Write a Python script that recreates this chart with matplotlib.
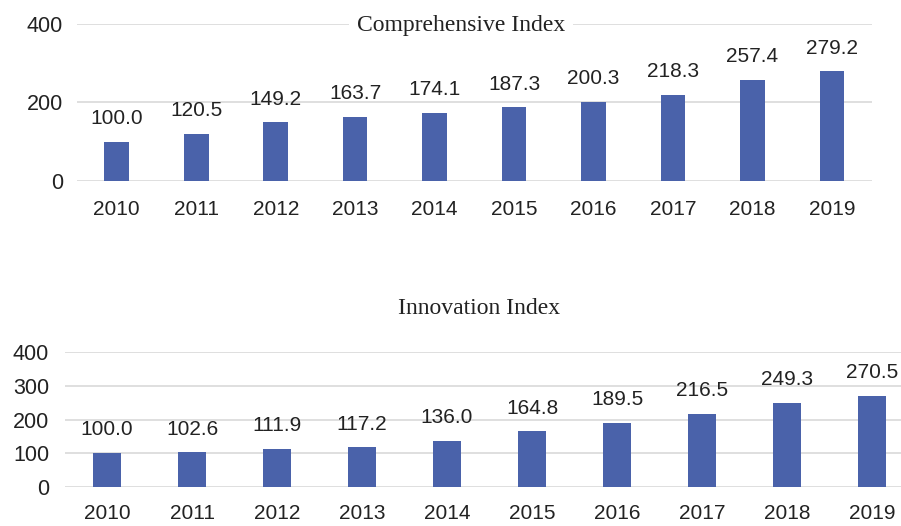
import numpy as np
import matplotlib.pyplot as plt

years = ["2010", "2011", "2012", "2013", "2014", "2015", "2016", "2017", "2018", "2019"]
comprehensive = [100.0, 120.5, 149.2, 163.7, 174.1, 187.3, 200.3, 218.3, 257.4, 279.2]
innovation = [100.0, 102.6, 111.9, 117.2, 136.0, 164.8, 189.5, 216.5, 249.3, 270.5]

bar_color = "#4a62aa"
grid_color = "#d9d9d9"
plt.rcParams['font.family'] = ['Liberation Sans', 'DejaVu Sans']

fig = plt.figure(figsize=(9.01, 5.26), dpi=100)

def draw_panel(ax, vals, yticks, bw, xpad, ypad):
    x = np.arange(len(years))
    bars = ax.bar(x, vals, width=bw, color=bar_color, zorder=3)
    ax.bar_label(bars, labels=["%.1f" % v for v in vals], padding=10, fontsize=15, color="#222222")
    ax.set_xlim(-0.5, len(years) - 0.5)
    ax.set_ylim(0, 400)
    ax.set_yticks(yticks)
    ax.set_xticks(x)
    ax.set_xticklabels(years)
    ax.grid(axis="y", color=grid_color, lw=1.2, zorder=0)
    for s in ax.spines.values():
        s.set_visible(False)
    ax.tick_params(axis="x", length=0, pad=xpad, labelsize=15, labelcolor="#222222")
    ax.tick_params(axis="y", length=0, pad=ypad, labelsize=15.5, labelcolor="#222222")

ax1 = fig.add_axes([0.0855, 0.6559, 0.882, 0.2985])
draw_panel(ax1, comprehensive, [0, 200, 400], 0.31, 14, 10)
fig.text(461/901, 1 - 25/526, "Comprehensive Index", family="Liberation Serif", fontsize=17,
         ha="center", va="center", color="#222222",
         bbox=dict(facecolor="white", edgecolor="none", pad=6))

ax2 = fig.add_axes([0.0716, 0.0741, 0.9434, 0.2567])
draw_panel(ax2, innovation, [0, 100, 200, 300, 400], 0.32, 12, 11)
fig.text(479/901, 1 - 308/526, "Innovation Index", family="Liberation Serif", fontsize=17,
         ha="center", va="center", color="#222222")

fig.savefig("out.png", dpi=100)
